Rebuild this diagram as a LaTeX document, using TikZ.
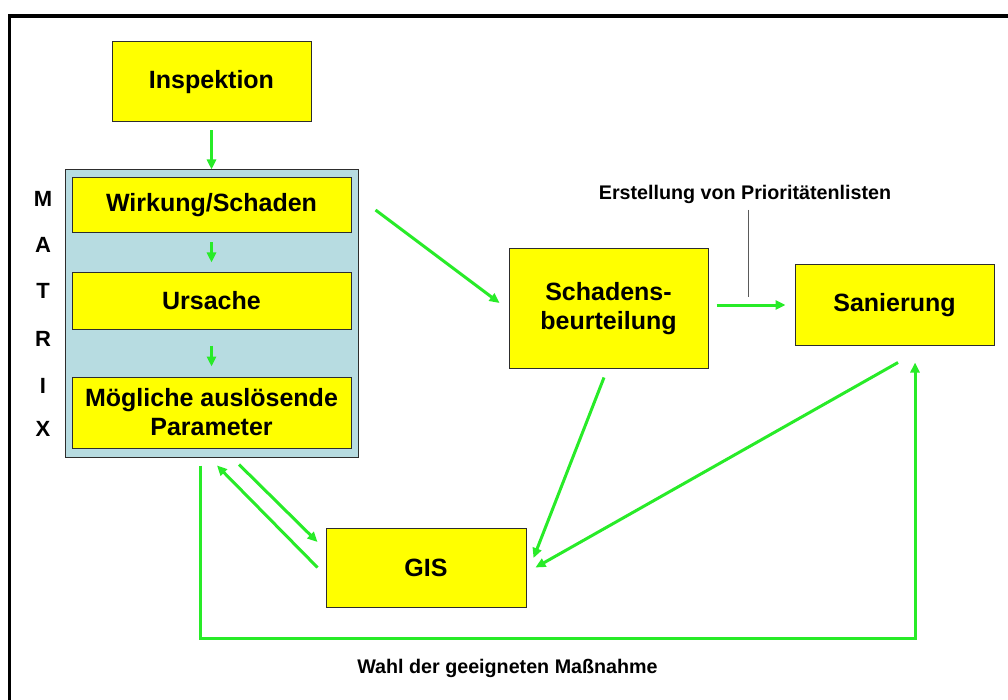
\documentclass[tikz,border=0pt]{standalone}
\usepackage{fontspec}
\setmainfont{Liberation Sans}
\usepackage{tikz}
\usetikzlibrary{arrows.meta}
\definecolor{boxyellow}{RGB}{255,255,0}
\definecolor{boxline}{RGB}{45,45,45}
\definecolor{matrixblue}{RGB}{183,220,225}
\definecolor{flowgreen}{RGB}{40,235,40}
\definecolor{prioline}{RGB}{90,90,90}
\tikzstyle{box}=[draw=boxline, fill=boxyellow, line width=1pt, inner sep=0pt, align=center,
    font=\fontsize{25}{29}\selectfont\bfseries]
\tikzstyle{flow}=[draw=flowgreen, line width=3pt, -{Triangle[length=10pt,width=9pt]}]
\tikzstyle{matrixletter}=[inner sep=0pt, font=\fontsize{22}{26}\selectfont\bfseries]
\tikzstyle{note}=[inner sep=0pt, anchor=base, font=\fontsize{19.7}{22}\selectfont\bfseries]

\begin{document}
\begin{tikzpicture}[x=1pt, y=-1pt]
          \useasboundingbox (0,0) rectangle (1008,700);
          \draw[line width=3.5pt] (9.5,700) |- (1008,16);
          \node[box, minimum width=199pt, minimum height=80pt] (insp) at (211.5,82) {Inspektion};
          \node[draw=boxline, fill=matrixblue, line width=1pt, minimum width=293pt, minimum height=287pt] (mtx) at (211.5,313.5) {};
          \node[box, minimum width=279pt, minimum height=55pt] (wirk) at (211.5,205.5) {Wirkung/Schaden};
          \node[box, minimum width=279pt, minimum height=56pt] (urs) at (211.5,301) {Ursache};
          \node[box, minimum width=279pt, minimum height=71pt] (param) at (211.5,412.5) {Mögliche auslösende\\Parameter};
          \node[box, minimum width=199pt, minimum height=119pt] (beurt) at (608.5,308.5) {Schadens-\\beurteilung};
          \node[box, minimum width=199pt, minimum height=80pt] (san) at (894.5,305) {Sanierung};
          \node[box, minimum width=200pt, minimum height=79pt] (gis) at (426,567.5) {GIS};
          \node[matrixletter] (lm) at (43,199) {M};
          \node[matrixletter] (la) at (43,245) {A};
          \node[matrixletter] (lt) at (43,291) {T};
          \node[matrixletter] (lr) at (43,339) {R};
          \node[matrixletter] (li) at (43,386) {I};
          \node[matrixletter] (lx) at (43,429) {X};
          \node[note] (prio) at (745,200) {Erstellung von Prioritätenlisten};
          \node[note] (wahl) at (507.5,673) {Wahl der geeigneten Maßnahme};
          \coordinate (prioend) at (748,297);
          \coordinate (turn) at (915,638);
          \draw[flow] ([shift={(0,8)}]insp.south) -- (mtx.north);
          \draw[flow] ([shift={(0,9)}]wirk.south) -- ([shift={(0,-10)}]urs.north);
          \draw[flow] ([shift={(0,16)}]urs.south) -- ([shift={(0,-10)}]param.north);
          \draw[flow] ([shift={(24,4.5)}]wirk.east) -- ([shift={(-9,-5.5)}]beurt.west);
          \draw[flow] ([shift={(8,-3.5)}]beurt.east) -- ([shift={(-9,0)}]san.west);
          \draw[draw=prioline, line width=1pt] ([shift={(3,10)}]prio.base) -- (prioend);
          \draw[flow] ([shift={(-4.5,9)}]beurt.south) -- ([shift={(7,-9.5)}]gis.east);
          \draw[flow] ([shift={(3.5,17)}]san.south) -- ([shift={(9,0)}]gis.east);
          \draw[flow] ([shift={(27.5,7)}]mtx.south) -- ([shift={(-8,-25.5)}]gis.west);
          \draw[flow] ([shift={(-8,0)}]gis.west) -- ([shift={(5.5,8)}]mtx.south);
          \draw[flow] ([shift={(-11.5,8)}]mtx.south) |- (turn) -- ([shift={(20.5,17)}]san.south);
        \end{tikzpicture}
\end{document}
